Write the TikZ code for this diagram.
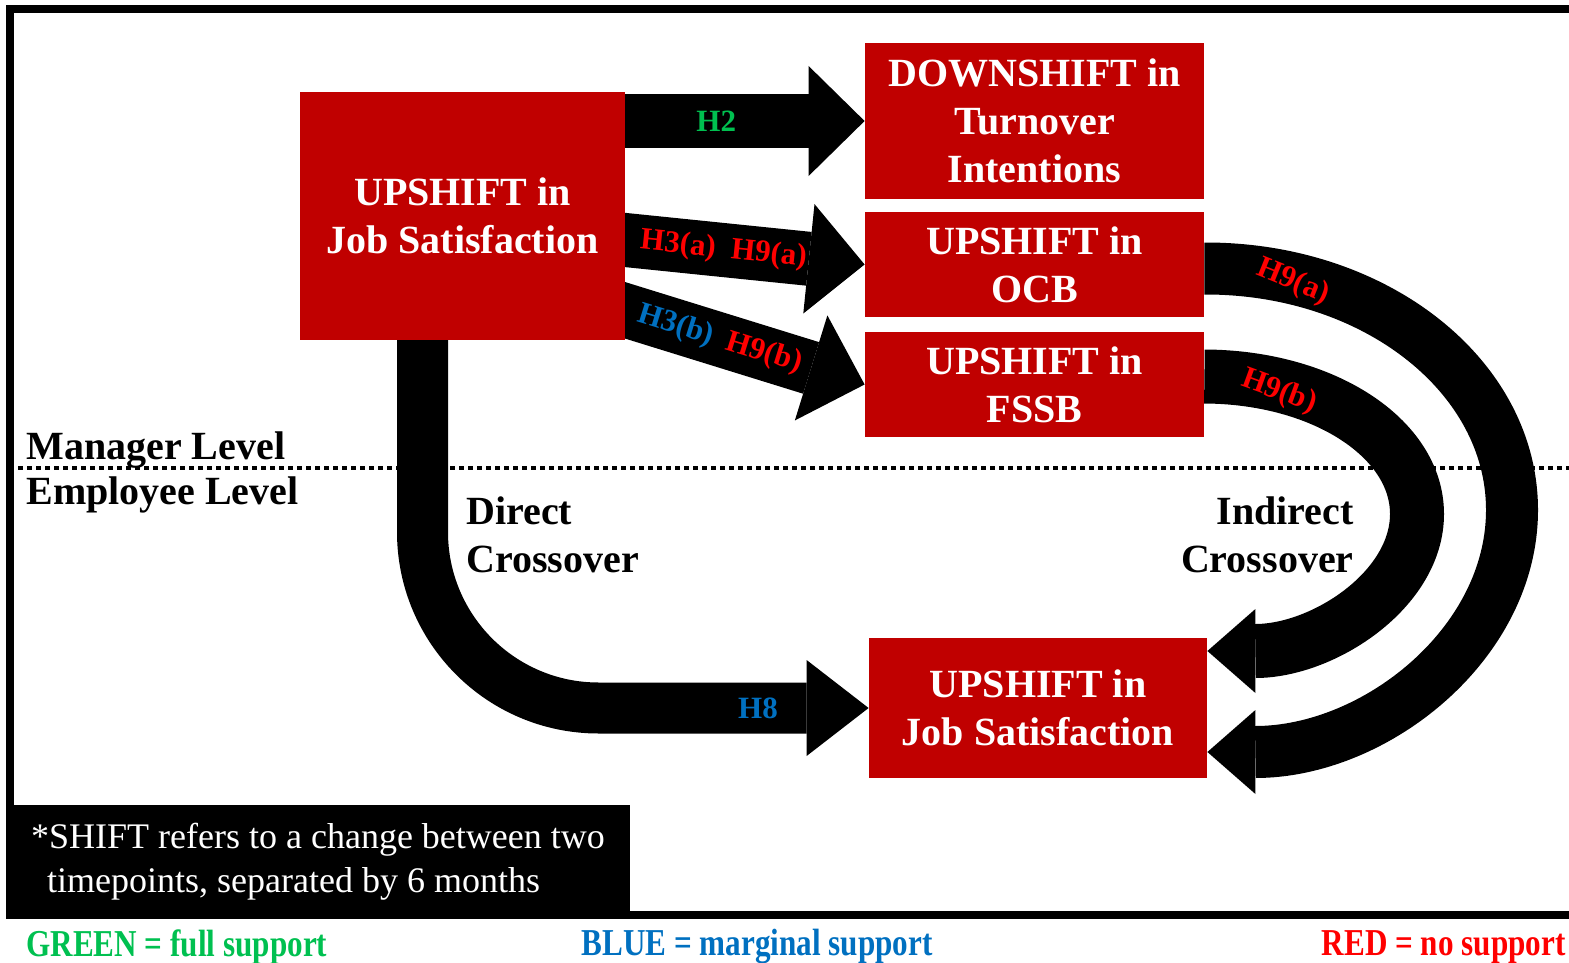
\documentclass[tikz,border=0pt]{standalone}
\usepackage{fontspec}
\setmainfont{Liberation Serif}
\newfontfamily\legendfont[FakeStretch=0.82]{Liberation Serif}
\usetikzlibrary{arrows.meta,backgrounds}

\definecolor{boxred}{RGB}{192,0,0}
\definecolor{hred}{RGB}{255,0,0}
\definecolor{hblue}{RGB}{0,112,192}
\definecolor{hgreen}{RGB}{0,192,80}

\begin{document}
\begin{tikzpicture}[x=0.5pt, y=-0.5pt,
    shiftbox/.style={fill=boxred, text=white, font=\bfseries\fontsize{20}{24}\selectfont, align=center, inner sep=0pt},
    hyp/.style={font=\bfseries\fontsize{15.5}{18}\selectfont, inner sep=0pt},
    level/.style={font=\bfseries\fontsize{20}{24}\selectfont, inner sep=0pt},
    legend/.style={font=\legendfont\bfseries\fontsize{19}{22}\selectfont, inner sep=0pt},
    bigarrow/.style={line width=27pt, -{Triangle[length=28pt, width=55pt, line width=0pt]}},
    looparrow/.style={line width=26pt, -{Triangle[length=24pt, width=42pt, line width=0pt]}}]

    \useasboundingbox (0,0) rectangle (1569,963);

    % Manager level boxes
    \node[shiftbox, minimum width=162.5pt, minimum height=124pt] (src) at (462.5,216) {UPSHIFT in\\Job Satisfaction};
    \node[shiftbox, minimum width=169.5pt, minimum height=78pt] (turn) at (1034.5,121) {DOWNSHIFT in\\Turnover\\Intentions};
    \node[shiftbox, minimum width=169.5pt, minimum height=52.5pt] (ocb) at (1034.5,264.5) {UPSHIFT in\\OCB};
    \node[shiftbox, minimum width=169.5pt, minimum height=52.5pt] (fssb) at (1034.5,384.5) {UPSHIFT in\\FSSB};

    % Employee level box
    \node[shiftbox, minimum width=169pt, minimum height=70pt] (emp) at (1038,708) {UPSHIFT in\\Job Satisfaction};

    % Level labels
    \node[level, anchor=west] (mgr) at (26,450) {Manager Level};
    \node[level, anchor=west] (empl) at (26,495) {Employee Level};
    \node[level, align=left, anchor=west] (direct) at (466,535) {Direct\\Crossover};
    \node[level, align=right, anchor=east] (indirect) at (1354,535) {Indirect\\Crossover};

    \begin{scope}[on background layer]
        % Divider between the levels
        \draw[line width=2pt, dash pattern=on 2.5pt off 2pt] (18,468) -- (1569,468);

        % Straight paths
        \draw[bigarrow] (src.east |- turn.west) -- node[hyp, text=hgreen, pos=0.38] {H2} (turn.west);
        \draw[bigarrow, shorten <=-8pt] ([yshift=-12pt]src.east) -- node[hyp, text=hred, sloped, pos=0.22] {H3(a)} node[hyp, text=hred, sloped, pos=0.6] {H9(a)} (ocb.west);
        \draw[bigarrow, shorten <=-8pt] ([yshift=15pt]src.south east) -- node[hyp, text=hblue, sloped, pos=0.21] {H3(b)} node[hyp, text=hred, sloped, pos=0.58] {H9(b)} (fssb.west);

        % Direct crossover
        \draw[line width=25.5pt, -{Triangle[length=31pt, width=48pt, line width=0pt]}, rounded corners=88pt, shorten <=-5pt] ([xshift=-20pt]src.south) |- node[hyp, text=hblue, pos=0.876] {H8} (emp.west);

        % Indirect crossover
        \draw[looparrow] ([yshift=-2pt]ocb.east) .. controls (1375,268) and (1512,376) .. (1512,510) .. controls (1512,644) and (1375,752) .. ([yshift=-22pt]emp.east);
        \draw[looparrow, line width=27pt] ([yshift=4pt]fssb.east) .. controls (1323,377) and (1417,438) .. (1417,514) .. controls (1417,590) and (1323,651) .. ([yshift=28.5pt]emp.east);
    \end{scope}

    \node[hyp, text=hred, rotate=-22] (h9a) at (1293,282) {H9(a)};
    \node[hyp, text=hred, rotate=-20] (h9b) at (1279,392) {H9(b)};

    % Frame and note
    \draw[line width=4pt] (1569,9) -- (10,9) -- (10,915) -- (1569,915);
    \node[fill=black, text=white, minimum width=312pt, minimum height=56.5pt, inner sep=0pt, align=left, font=\fontsize{18}{22}\selectfont] (note) at (318,861.5) {*SHIFT refers to a change between two\\\hspace*{8pt}timepoints, separated by 6 months};

    % Legend
    \node[legend, text=hgreen, anchor=west] (green) at (26,947) {GREEN = full support};
    \node[legend, text=hblue] (blue) at (757,947) {BLUE = marginal support};
    \node[legend, text=hred, anchor=east] (red) at (1566,947) {RED = no support};
\end{tikzpicture}
\end{document}
